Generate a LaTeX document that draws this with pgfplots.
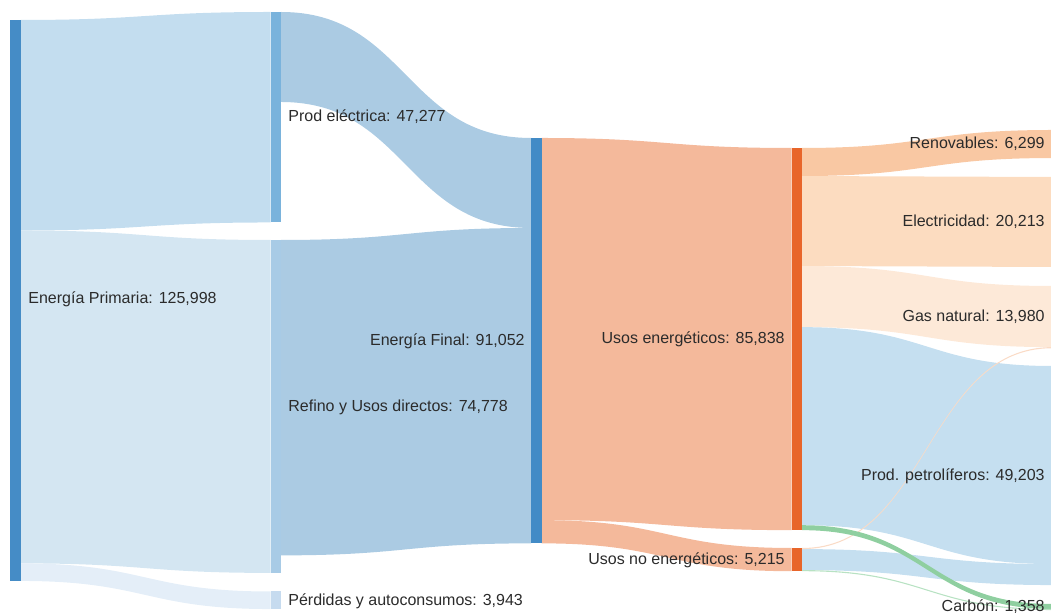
\documentclass[border=0pt]{standalone}
\usepackage{fontspec}
\setmainfont{Liberation Sans}
\usepackage{pgfplots}
\pgfplotsset{compat=1.18}

\definecolor{epnode}{HTML}{458CC6}
\definecolor{penode}{HTML}{7AB3DC}
\definecolor{rfnode}{HTML}{A8CBE6}
\definecolor{pdnode}{HTML}{C6DBEF}
\definecolor{efnode}{HTML}{428BC6}
\definecolor{usnode}{HTML}{E8652A}
\definecolor{fpe}{HTML}{C3DDEF}
\definecolor{frf}{HTML}{D4E6F2}
\definecolor{fpd}{HTML}{E4EEF8}
\definecolor{fef}{HTML}{ABCBE3}
\definecolor{fus}{HTML}{F4B99B}
\definecolor{fren}{HTML}{F9C8A3}
\definecolor{fele}{HTML}{FCDCC0}
\definecolor{fgas}{HTML}{FDE9D8}
\definecolor{fpet}{HTML}{C5DFF0}
\definecolor{fcar}{HTML}{8FCFA0}
\definecolor{fcar2}{HTML}{B8E2C3}
\definecolor{txt}{HTML}{2B2B2B}

\tikzset{lbl/.style={font=\fontsize{8}{9.6}\selectfont, text=txt, inner sep=0pt}}

% pixels per thousand units of energy
\newcommand{\pxs}{4.452}

% link: colour, x0, y0 (top at source), x1, y1 (top at target), value (thousands)
\newcommand{\flow}[6]{%
  \pgfmathsetmacro\hh{#6*\pxs}%
  \pgfmathsetmacro\xm{(#2+#4)/2}%
  \pgfmathsetmacro\ya{#3+\hh}%
  \pgfmathsetmacro\yb{#5+\hh}%
  \edef\tmp{\noexpand\fill[#1] (axis cs:#2,#3) .. controls (axis cs:\xm,#3) and (axis cs:\xm,#5) .. (axis cs:#4,#5) -- (axis cs:#4,\yb) .. controls (axis cs:\xm,\yb) and (axis cs:\xm,\ya) .. (axis cs:#2,\ya) -- cycle;}%
  \tmp}

% node bar: colour, x, top, value (thousands)
\newcommand{\nbar}[4]{%
  \pgfmathsetmacro\yy{#3+#4*\pxs}%
  \pgfmathsetmacro\xx{#2+10.6}%
  \edef\tmp{\noexpand\fill[#1] (axis cs:#2,#3) rectangle (axis cs:\xx,\yy);}%
  \tmp}

\begin{document}
\begin{tikzpicture}
\begin{axis}[
    x=0.5pt, y=0.5pt,
    xmin=0, xmax=1051,
    ymin=0, ymax=613,
    y dir=reverse,
    hide axis,
    clip=false
]
% links
\flow{fpe}{20.6}{20}{270.5}{12}{47.277}
\flow{frf}{20.6}{230.48}{270.5}{240}{74.778}
\flow{fpd}{20.6}{563.4}{270.5}{591.5}{3.943}
\flow{fef}{281.1}{12}{531}{138}{20.213}
\flow{fef}{281.1}{240}{531}{227.99}{70.839}
\flow{fus}{541.6}{138}{791.5}{148}{85.838}
\flow{fus}{541.6}{520.15}{791.5}{548}{5.215}
\flow{fren}{802.1}{148}{1052}{130}{6.299}
\flow{fele}{802.1}{176.04}{1052}{177}{20.213}
\flow{fgas}{802.1}{266.03}{1052}{286}{13.730}
\flow{fpet}{802.1}{327.16}{1052}{366}{44.488}
\flow{fpet}{802.1}{549.11}{1052}{564.06}{4.715}
\flow{fgas!70!fus}{802.1}{548}{1052}{347.13}{0.250}
\flow{fcar}{802.1}{525.22}{1052}{604}{1.108}
\flow{fcar2}{802.1}{570.1}{1052}{608.93}{0.250}
% nodes
\nbar{epnode}{10}{20}{125.998}
\nbar{penode}{270.5}{12}{47.277}
\nbar{rfnode}{270.5}{240}{74.778}
\nbar{pdnode}{270.5}{591.5}{3.943}
\nbar{efnode}{531}{138}{91.052}
\nbar{usnode}{791.5}{148}{85.838}
\nbar{usnode}{791.5}{548}{5.215}
% labels
\node[lbl, anchor=west] at (axis cs:28,299) {Energía Primaria: 125,998};
\node[lbl, anchor=west] at (axis cs:288,117) {Prod eléctrica: 47,277};
\node[lbl, anchor=west] at (axis cs:288,407) {Refino y Usos directos: 74,778};
\node[lbl, anchor=west] at (axis cs:288,601) {Pérdidas y autoconsumos: 3,943};
\node[lbl, anchor=east] at (axis cs:525,341) {Energía Final: 91,052};
\node[lbl, anchor=east] at (axis cs:785,339) {Usos energéticos: 85,838};
\node[lbl, anchor=east] at (axis cs:785,560) {Usos no energéticos: 5,215};
\node[lbl, anchor=east] at (axis cs:1045,144) {Renovables: 6,299};
\node[lbl, anchor=east] at (axis cs:1045,222) {Electricidad: 20,213};
\node[lbl, anchor=east] at (axis cs:1045,317) {Gas natural: 13,980};
\node[lbl, anchor=east] at (axis cs:1045,476) {Prod. petrolíferos: 49,203};
\node[lbl, anchor=east] at (axis cs:1045,607) {Carbón: 1,358};
\end{axis}
\pgfresetboundingbox
\path[use as bounding box] (current axis.south west) rectangle (current axis.north east);
\end{tikzpicture}
\end{document}
